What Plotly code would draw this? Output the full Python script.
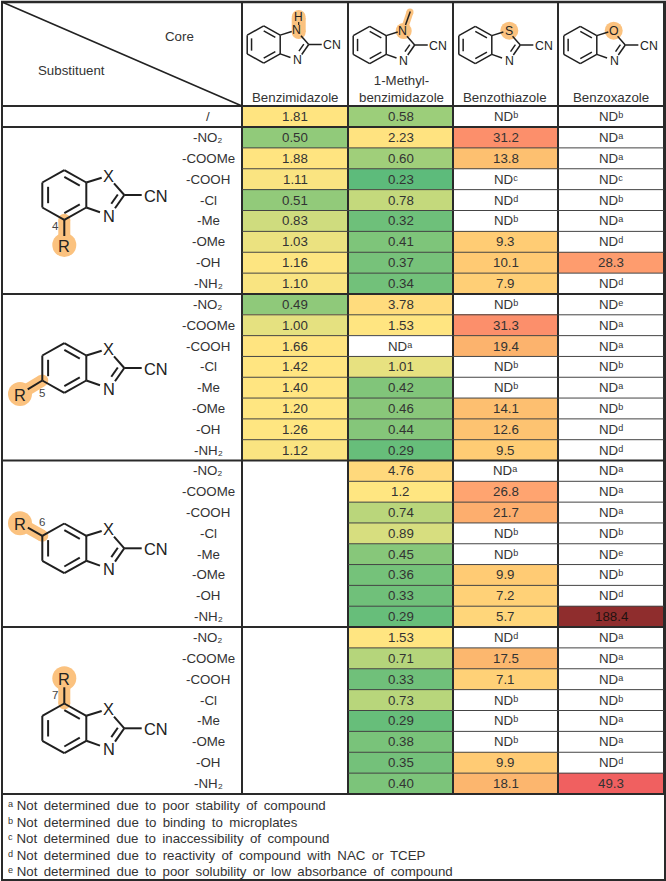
import numpy as np
import plotly.graph_objects as go

FONT = "Liberation Sans, Arial, DejaVu Sans, sans-serif"
INK = "#333333"
ORANGE = "#FBC27F"

core_names = ["Benzimidazole", "1-Methyl-<br>benzimidazole", "Benzothiazole", "Benzoxazole"]
substituents = ["-NO\u2082", "-COOMe", "-COOH", "-Cl", "-Me", "-OMe", "-OH", "-NH\u2082"]
superscripts = dict(a="\u1d43", b="\u1d47", c="\u1d9c", d="\u1d48", e="\u1d49")

benzimidazole = ["1.81",
    "0.50", "1.88", "1.11", "0.51", "0.83", "1.03", "1.16", "1.10",
    "0.49", "1.00", "1.66", "1.42", "1.40", "1.20", "1.26", "1.12",
    "", "", "", "", "", "", "", "",
    "", "", "", "", "", "", "", ""]
methyl_benzimidazole = ["0.58",
    "2.23", "0.60", "0.23", "0.78", "0.32", "0.41", "0.37", "0.34",
    "3.78", "1.53", "NDa", "1.01", "0.42", "0.46", "0.44", "0.29",
    "4.76", "1.2", "0.74", "0.89", "0.45", "0.36", "0.33", "0.29",
    "1.53", "0.71", "0.33", "0.73", "0.29", "0.38", "0.35", "0.40"]
benzothiazole = ["NDb",
    "31.2", "13.8", "NDc", "NDd", "NDb", "9.3", "10.1", "7.9",
    "NDb", "31.3", "19.4", "NDb", "NDb", "14.1", "12.6", "9.5",
    "NDa", "26.8", "21.7", "NDb", "NDb", "9.9", "7.2", "5.7",
    "NDd", "17.5", "7.1", "NDb", "NDb", "NDb", "9.9", "18.1"]
benzoxazole = ["NDb",
    "NDa", "NDa", "NDc", "NDb", "NDa", "NDd", "28.3", "NDd",
    "NDe", "NDa", "NDa", "NDb", "NDa", "NDb", "NDd", "NDd",
    "NDa", "NDa", "NDa", "NDb", "NDe", "NDb", "NDd", "188.4",
    "NDa", "NDa", "NDa", "NDb", "NDa", "NDa", "NDd", "49.3"]

footnotes = [
    ("a", "Not determined due to poor stability of compound"),
    ("b", "Not determined due to binding to microplates"),
    ("c", "Not determined due to inaccessibility of compound"),
    ("d", "Not determined due to reactivity of compound with NAC or TCEP"),
    ("e", "Not determined due to poor solubility or low absorbance of compound"),
]

scale_values = [0.23, 0.29, 0.33, 0.40, 0.49, 0.58, 0.74, 0.83, 1.0, 1.1, 1.2, 2.23, 4.76, 9.5, 13.8, 19.4, 26.8, 31.2, 49.3, 188.4]
scale_colors = ["#5DBB7B", "#67BE7A", "#70C07A", "#7CC47A", "#8FC97A", "#9CCE7A", "#BAD67B", "#CFDC7E", "#E5E180", "#F9E481",
                "#FFE681", "#FFE380", "#FFD97C", "#FFCC74", "#FDC070", "#FCB36D", "#FFA470", "#FC8F6B", "#F06060", "#8F2D2D"]

columns = [benzimidazole, methyl_benzimidazole, benzothiazole, benzoxazole]
col_edges = [242, 348, 453, 558, 664]
section_edges = [106, 127, 294, 460.5, 627, 794]

row_edges = [106.0, 127.0]
for a, b in zip(section_edges[1:-1], section_edges[2:]):
    row_edges += list(np.linspace(a, b, 9)[1:])
row_centers = [(a + b) / 2 for a, b in zip(row_edges[:-1], row_edges[1:])]
col_centers = [(a + b) / 2 for a, b in zip(col_edges[:-1], col_edges[1:])]


def num(s):
    return None if (s == "" or s.startswith("ND")) else float(s)


def label(s):
    return "ND" + superscripts[s[2:]] if s.startswith("ND") else s


z = [[(None if num(c[r]) is None else np.log10(num(c[r]))) for c in columns] for r in range(len(row_centers))]
lo, hi = np.log10(scale_values[0]), np.log10(scale_values[-1])
colorscale = [[float((np.log10(v) - lo) / (hi - lo)), c] for v, c in zip(scale_values, scale_colors)]

fig = go.Figure()
fig.add_trace(go.Heatmap(x=col_edges, y=row_edges, z=z, zmin=lo, zmax=hi, colorscale=colorscale,
                         showscale=False, hoverinfo="skip"))

shapes, annos = [], []


def seg(x0, y0, x1, y1, w=1.0, color="#2a2a2a", layer="above"):
    shapes.append(dict(type="line", x0=x0, y0=y0, x1=x1, y1=y1, layer=layer, line=dict(color=color, width=w)))


def blob(cx, cy, r):
    shapes.append(dict(type="circle", x0=cx - r, x1=cx + r, y0=cy - r, y1=cy + r, layer="below",
                       fillcolor=ORANGE, line=dict(width=0)))


def txt(x, y, s, size=13.3, color=INK, anchor="center"):
    annos.append(dict(x=x, y=y, text=s, showarrow=False, xanchor=anchor, yanchor="middle", borderpad=0,
                      font=dict(family=FONT, size=size, color=color)))


# Cell values and substituent labels
for cx, c in zip(col_centers, columns):
    for cy, s in zip(row_centers, c):
        if s:
            txt(cx, cy, label(s), 13.3, "#1f1210" if s == "188.4" else INK)
for cy, s in zip(row_centers, ["/"] + substituents * 4):
    txt(208, cy, s)


def molecule(cx, cy, s, x_label, lw):
    v = dict(T=(0, -24.8), TR=(22, -12.5), BR=(22, 12.5), B=(0, 24.8), BL=(-22, 12.5), TL=(-22, -12.5))
    P = lambda p: (cx + p[0] * s, cy + p[1] * s)
    def bond(a, b):
        pa, pb = P(a), P(b)
        seg(pa[0], pa[1], pb[0], pb[1], lw, "#1f1f1f")
    order = ["T", "TR", "BR", "B", "BL", "TL", "T"]
    for a, b in zip(order[:-1], order[1:]):
        bond(v[a], v[b])
    bond((-16.2, -8.2), (-16.2, 8.2))
    bond((0, -18.2), (15.5, -9.4))
    bond((0, 18.2), (15.5, 9.4))
    bond(v["TR"], (37.4, -17.3))
    bond((49.7, -11.7), (60, 0))
    bond((60, 0), (50.7, 13.3))
    bond((53.5, -0.5), (47, 8.8))
    bond((35.7, 17.3), v["BR"])
    bond((60, 0), (77.4, 0))
    fs = 16.4 * s
    ax, ay = P((44.3, -19.3))
    if x_label:
        txt(ax, ay, x_label, fs, "#222")
    nx, ny = P((45, 21))
    txt(nx, ny, "N", fs, "#222")
    tx_, ty_ = P((91.7, 0.7))
    txt(tx_, ty_, "CN", fs, "#222")


# Table frame
for x in col_edges:
    seg(x, 2, x, 794, 2)
seg(2, 1, 2, 880, 2)
seg(665, 1, 665, 880, 2)
seg(1, 2, 666, 2, 2.5)
seg(1, 880, 666, 880, 2)
for y in section_edges:
    seg(2, y, 665, y, 2)
for i, y in enumerate(row_edges):
    if y in section_edges:
        continue
    seg(348 if y > 460.5 else 242, y, 664, y, 1, "#444444")
seg(2, 2, 242, 106, 1.6, "#222")

txt(179, 36, "Core")
txt(71.7, 70, "Substituent")
heads = [(295.3, 97), (401, 88.5), (505.3, 97), (611, 97)]
for (hx, hy), name in zip(heads, core_names):
    txt(hx, hy, name)

# Header structures
S = 0.75
seg(298.7, 18, 298.7, 32, 14, ORANGE, "below")
blob(298.7, 17, 7); blob(298.7, 32, 7)
seg(403.7, 31, 410, 12, 7, ORANGE, "below")
blob(403.7, 31, 8); blob(410, 12, 3.5)
blob(509.3, 30.7, 9); blob(613.7, 30.7, 9)

molecule(263.7, 44.5, S, "N", 1.5)
txt(298.7, 16.7, "H", 12, "#222")
seg(298.7, 22, 298.7, 25, 1.2, "#222")
molecule(369.7, 45, S, "N", 1.5)
seg(405.5, 25, 410.3, 11.5, 1.5, "#1f1f1f")
molecule(475.3, 45, S, "S", 1.5)
molecule(580.3, 45, S, "O", 1.5)

# Substituted scaffolds
scaffolds = [
    (64.3, 195, (64.3, 219.8), (64.3, 245), "4", (55, 226)),
    (64.3, 368, (42.3, 380.5), (20, 394), "5", (41.7, 393)),
    (64.3, 548.3, (42.3, 535.8), (20, 523.3), "6", (41.7, 522)),
    (64.3, 728.3, (64.3, 703.5), (64.3, 678.3), "7", (55, 695)),
]
for cx, cy, vtx, r_pos, num_lab, num_pos in scaffolds:
    seg(vtx[0], vtx[1], r_pos[0], r_pos[1], 12, ORANGE, "below")
    blob(vtx[0], vtx[1], 6)
    blob(r_pos[0], r_pos[1], 12)
    molecule(cx, cy, 1.0, "X", 2)
    dx, dy = r_pos[0] - vtx[0], r_pos[1] - vtx[1]
    L = (dx ** 2 + dy ** 2) ** 0.5
    seg(vtx[0], vtx[1], r_pos[0] - dx / L * 9, r_pos[1] - dy / L * 9, 2, "#1f1f1f")
    txt(r_pos[0], r_pos[1] + 0.5, "R", 16.4, "#222")
    txt(num_pos[0], num_pos[1], num_lab, 11.5, "#444")

# Footnotes (justified in the original, hence the slightly wider word gaps)
for y, (mark, note) in zip([805, 822, 838, 855, 871], footnotes):
    wide = note.replace(" ", " \u2009")
    txt(7, y, f"{superscripts[mark]} {wide}", 13.3, INK, "left")

fig.update_layout(
    width=666, height=881, margin=dict(l=0, r=0, t=0, b=0),
    paper_bgcolor="white", plot_bgcolor="white", showlegend=False,
    xaxis=dict(range=[0, 666], visible=False, fixedrange=True, domain=[0, 1]),
    yaxis=dict(range=[881, 0], visible=False, fixedrange=True, domain=[0, 1]),
    shapes=shapes, annotations=annos,
)
fig.write_html("out.html", config=dict(displayModeBar=False),
               post_script="document.body.style.margin='0';document.body.style.overflow='hidden';")
